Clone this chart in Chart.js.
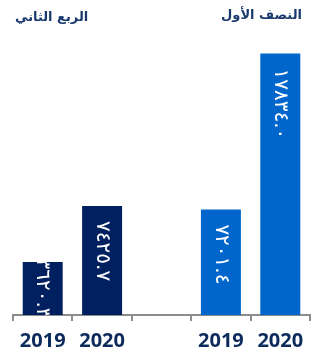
<!DOCTYPE html>
<html>
<head>
<meta charset="utf-8">
<script src="https://cdn.jsdelivr.net/npm/chart.js@4"></script>
<style>
  html, body { margin: 0; padding: 0; background: #fff; }
</style>
</head>
<body>
<canvas id="chart" width="317" height="354"></canvas>
<script>
// categories along the axis (blank slot separates the two groups)
const years = ["2019", "2020", "", "2019", "2020"];
// Q2 2019, Q2 2020, gap, H1 2019, H1 2020
const values = [3620.3, 7425.7, null, 7201.4, 17834.0];
const groupTitles = ["الربع الثاني", "النصف الأول"];

const navy = "#002060";
const blue = "#0066cc";
const barColors = [navy, navy, navy, blue, blue];

const toArabicDigits = (s) => s.replace(/[0-9]/g, d => "٠١٢٣٤٥٦٧٨٩"[d]);

// white value written down the bar, clipped to the bar
const valueLabels = {
  id: "valueLabels",
  afterDatasetsDraw(chart) {
    const ctx = chart.ctx;
    const meta = chart.getDatasetMeta(0);
    meta.data.forEach((bar, i) => {
      if (values[i] == null) return;
      const p = bar.getProps(["x", "y", "base", "width"], true);
      const h = p.base - p.y;
      const text = toArabicDigits(values[i].toFixed(1));
      ctx.save();
      ctx.beginPath();
      ctx.rect(p.x - p.width / 2, p.y, p.width, h);
      ctx.clip();
      ctx.font = '20px "DejaVu Sans"';
      ctx.fillStyle = "#ffffff";
      ctx.textAlign = "left";
      ctx.textBaseline = "middle";
      const tw = ctx.measureText(text).width;
      const start = tw + 28 > h ? p.y + (h - tw) / 2 : p.y + 15;
      ctx.translate(p.x, start);
      ctx.rotate(Math.PI / 2);
      ctx.fillText(text, 0, 0);
      ctx.restore();
    });
  }
};

// group headings above each pair of bars
const groupHeadings = {
  id: "groupHeadings",
  afterDraw(chart) {
    const ctx = chart.ctx;
    const area = chart.chartArea;
    ctx.save();
    ctx.font = 'bold 13px "DejaVu Sans"';
    ctx.fillStyle = "#1a3a6e";
    ctx.textBaseline = "middle";
    ctx.textAlign = "left";
    ctx.fillText(groupTitles[0], area.left + 2, 18);
    ctx.textAlign = "right";
    ctx.fillText(groupTitles[1], area.right - 8, 16);
    ctx.restore();
  }
};

new Chart(document.getElementById("chart"), {
  type: "bar",
  data: {
    labels: years,
    datasets: [{
      data: values,
      backgroundColor: barColors,
      barPercentage: 0.673,
      categoryPercentage: 1
    }]
  },
  options: {
    responsive: false,
    devicePixelRatio: 1,
    animation: false,
    layout: { padding: { top: 51, left: 13, right: 7, bottom: -7 } },
    plugins: {
      legend: { display: false },
      tooltip: { enabled: false }
    },
    scales: {
      y: { display: false, min: 0, max: 18000 },
      x: {
        grid: {
          offset: true,
          drawOnChartArea: false,
          drawTicks: true,
          tickLength: 6,
          color: "#8c8c8c",
          lineWidth: 2
        },
        border: { display: true, color: "#8c8c8c", width: 2 },
        ticks: {
          color: "#0d2a5c",
          padding: 8,
          font: { family: "Open Sans", weight: "bold", size: 20 }
        }
      }
    }
  },
  plugins: [valueLabels, groupHeadings]
});
</script>
</body>
</html>
